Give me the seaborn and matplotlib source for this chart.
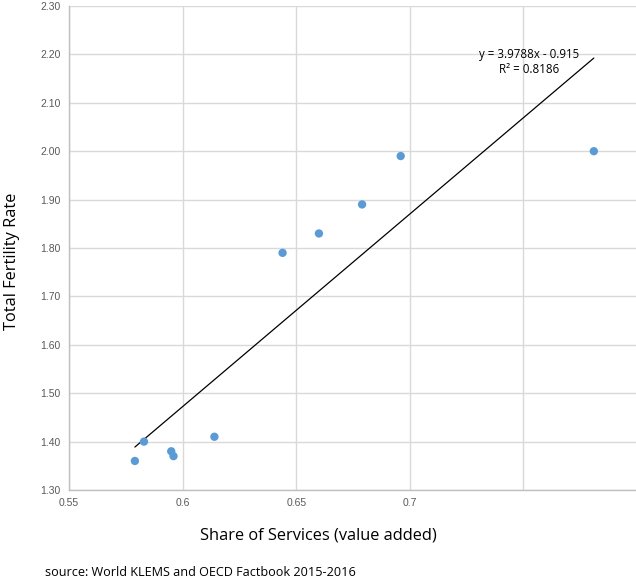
import matplotlib
matplotlib.use("Agg")
import matplotlib.pyplot as plt
import seaborn as sns
import numpy as np
import pandas as pd

# Share of services in value added vs. total fertility rate
share_services = [0.579, 0.583, 0.595, 0.596, 0.614, 0.644, 0.660, 0.679, 0.696, 0.781]
fertility_rate = [1.36, 1.40, 1.38, 1.37, 1.41, 1.79, 1.83, 1.89, 1.99, 2.00]

# Linear trend reported on the chart
slope = 3.9788
intercept = -0.915
r_squared = 0.8186

x_ticks = [0.55, 0.6, 0.65, 0.7, 0.75]
x_tick_labels = ["0.55", "0.6", "0.65", "0.7", ""]
y_ticks = [1.30, 1.40, 1.50, 1.60, 1.70, 1.80, 1.90, 2.00, 2.10, 2.20, 2.30]

df = pd.DataFrame({"share": share_services, "tfr": fertility_rate})

sns.set_theme(style="white")
plt.rcParams["font.family"] = ["Liberation Sans", "DejaVu Sans"]

W, H = 636, 581
fig = plt.figure(figsize=(W / 100, H / 100), dpi=100)
ax = fig.add_axes([69 / W, (H - 490) / H, (637 - 69) / W, 484 / H])

grid_c = "#d9d9d9"
ax.set_xlim(0.55, 0.8)
ax.set_ylim(1.30, 2.30)
ax.set_xticks(x_ticks)
ax.set_xticklabels(x_tick_labels)
ax.set_yticks(y_ticks)
ax.set_yticklabels([f"{v:.2f}" for v in y_ticks])
ax.grid(True, color=grid_c, linewidth=1.0)
ax.set_axisbelow(True)
for side in ["top", "right"]:
    ax.spines[side].set_visible(False)
for side in ["left", "bottom"]:
    ax.spines[side].set_color("#bfbfbf")
    ax.spines[side].set_linewidth(1.0)
ax.tick_params(axis="both", length=0, labelsize=7.5, labelcolor="#595959", pad=6)

# Trend line across the range of the data
xs = np.array([min(share_services), max(share_services)])
ax.plot(xs, slope * xs + intercept, color="black", linewidth=0.9, zorder=2)

sns.scatterplot(data=df, x="share", y="tfr", ax=ax, color="#5B9BD5",
                s=36, edgecolor="none", zorder=3, legend=False)

ax.set_xlabel("")
ax.set_ylabel("")

eq_font = ["Open Sans", "DejaVu Sans"]
ax.text(0.7526, 2.187, f"y = {slope}x - {abs(intercept)}", fontsize=8.3,
        ha="center", va="bottom", color="black", family=eq_font)
ax.text(0.7526, 2.182, f"R² = {r_squared}", fontsize=8.3,
        ha="center", va="top", color="black", family=eq_font)

fig.text(12 / W, 1 - 261 / H, "Total Fertility Rate", rotation=90,
         ha="center", va="center", fontsize=11.8, color="black",
         family=eq_font)
fig.text(318 / W, 1 - 535 / H, "Share of Services (value added)",
         ha="center", va="center", fontsize=11.8, color="black",
         family=eq_font)
fig.text(45 / W, 1 - 572 / H, "source: World KLEMS and OECD Factbook 2015-2016",
         ha="left", va="center", fontsize=9.1, color="black",
         family=eq_font)

fig.savefig("out.png", dpi=100, facecolor="white")
